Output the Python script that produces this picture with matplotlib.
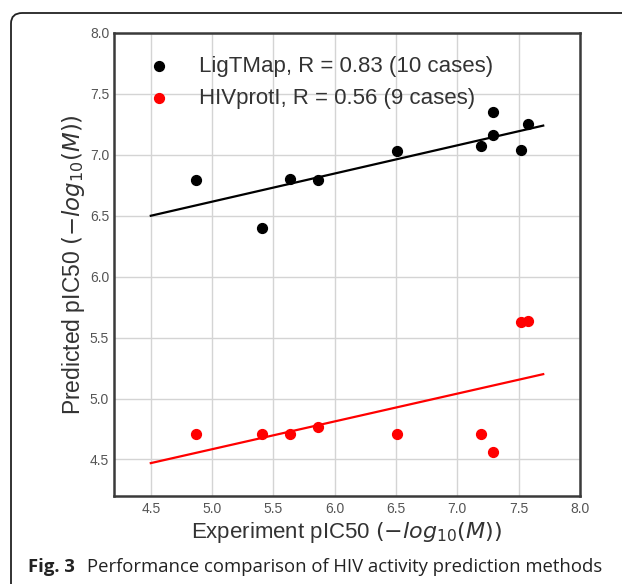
import numpy as np
import matplotlib
matplotlib.use("Agg")
import matplotlib.pyplot as plt
from matplotlib.patches import FancyBboxPatch

# Data
ligtmap_exp = [4.87, 5.41, 5.635, 5.86, 6.51, 7.19, 7.29, 7.29, 7.52, 7.58]
ligtmap_pred = [6.79, 6.40, 6.80, 6.79, 7.03, 7.07, 7.35, 7.16, 7.04, 7.25]
hivprotl_exp = [4.87, 5.41, 5.635, 5.86, 6.51, 7.19, 7.29, 7.52, 7.58]
hivprotl_pred = [4.71, 4.71, 4.71, 4.77, 4.71, 4.71, 4.565, 5.63, 5.635]

# Trend line end points
fit_x = [4.5, 7.7]
fit_ligtmap = [6.50, 7.24]
fit_hivprotl = [4.47, 5.20]

ticks = [4.5, 5.0, 5.5, 6.0, 6.5, 7.0, 7.5, 8.0]

plt.rcParams["font.family"] = ["Liberation Sans", "DejaVu Sans"]

W, H = 622, 584
fig = plt.figure(figsize=(W / 100, H / 100), dpi=100)

# Rounded frame around the figure
frame = FancyBboxPatch((11 / W, -0.1), 1.2, 1.1 - 13 / H,
                       boxstyle="round,pad=0,rounding_size=0.018",
                       transform=fig.transFigure, facecolor="none",
                       edgecolor="#222222", linewidth=1.3, zorder=0)
fig.patches.append(frame)

ax = fig.add_axes([114 / W, 1 - 496 / H, (580 - 114) / W, (496 - 33) / H])

ax.plot(fit_x, fit_ligtmap, color="black", linewidth=1.6, zorder=2)
ax.plot(fit_x, fit_hivprotl, color="red", linewidth=1.6, zorder=2)
ax.scatter(ligtmap_exp, ligtmap_pred, s=50, color="black", zorder=3,
           label="LigTMap, R = 0.83 (10 cases)")
ax.scatter(hivprotl_exp, hivprotl_pred, s=50, color="red", zorder=3,
           label="HIVprotI, R = 0.56 (9 cases)")

ax.set_xlim(4.2, 8.0)
ax.set_ylim(4.2, 8.0)
ax.set_xticks(ticks)
ax.set_yticks(ticks)
ax.grid(True, color="#d4d4d4", linewidth=1.0, zorder=0)
ax.set_axisbelow(True)
ax.tick_params(length=0, labelsize=10, labelcolor="#555555")
ax.tick_params(axis="x", pad=4.5)
ax.tick_params(axis="y", pad=3.5)
for sp in ax.spines.values():
    sp.set_color("#3a3a3a")
    sp.set_linewidth(1.8)

ax.set_xlabel(r"Experiment pIC50 $(-log_{10}(M))$", fontsize=16,
              color="#333333", labelpad=2.5)
ax.set_ylabel(r"Predicted pIC50 $(-log_{10}(M))$", fontsize=16.5,
              color="#333333", labelpad=2)

leg = ax.legend(loc="upper left", frameon=False, fontsize=16, scatterpoints=1,
                handletextpad=0.8, labelspacing=0.5, borderaxespad=0.62)
for t in leg.get_texts():
    t.set_color("#333333")

# Caption
fig.text(28 / W, 1 - 572 / H, "Fig. 3", fontsize=13.3, fontweight="bold",
         family=["Open Sans", "DejaVu Sans"], color="#222222", va="baseline")
fig.text(87 / W, 1 - 572 / H,
         "Performance comparison of HIV activity prediction methods",
         fontsize=13.3, family=["Open Sans", "DejaVu Sans"], color="#222222",
         va="baseline")

fig.savefig("out.png", dpi=100)
